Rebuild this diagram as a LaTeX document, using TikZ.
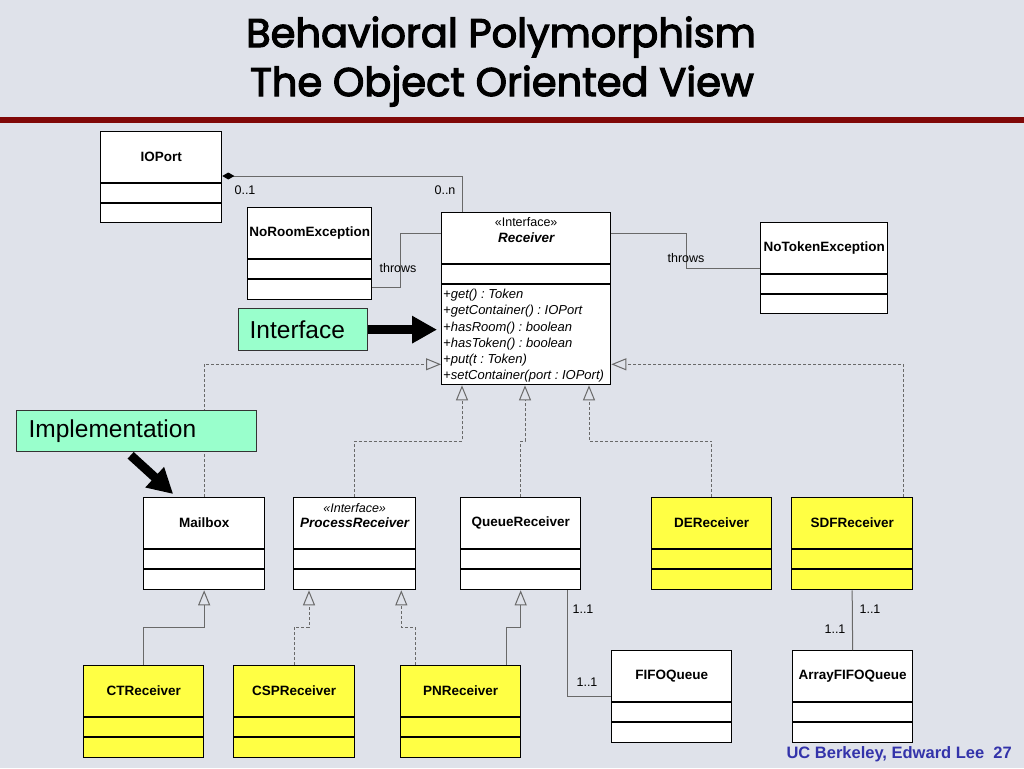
\documentclass[tikz,border=0pt]{standalone}
\usepackage{fontspec}
\setmainfont{Liberation Sans}
\newfontfamily\titlefont{Poppins}[FakeBold=3]
\usetikzlibrary{arrows.meta,positioning}

\definecolor{slidebg}{RGB}{223,226,234}
\definecolor{titlered}{RGB}{128,8,8}
\definecolor{classyellow}{RGB}{255,255,68}
\definecolor{calloutgreen}{RGB}{153,255,204}
\definecolor{linkgray}{RGB}{105,105,105}
\definecolor{footblue}{RGB}{51,51,170}

\tikzset{
  classbox/.style={draw=black, line width=1.3pt, anchor=north west, inner sep=0pt},
  boxline/.style={line width=1.3pt},
  umlname/.style={font=\fontsize{13.5}{15}\selectfont\bfseries},
  stereo/.style={font=\fontsize{12.5}{15}\selectfont},
  mult/.style={font=\fontsize{12.5}{15}\selectfont},
  link/.style={draw=linkgray, line width=1pt},
  realize/.style={link, dash pattern=on 3pt off 2pt, -{Triangle[open, width=12pt, length=15pt]}},
  extend/.style={link, -{Triangle[open, width=12pt, length=15pt]}},
  callout/.style={draw=black!80, line width=1.3pt, fill=calloutgreen, anchor=north west,
    align=left, font=\fontsize{24.5}{28}\selectfont},
  bigarrow/.style={line width=9pt, -{Triangle[width=26pt, length=25pt]}},
}

% class box: name, x, y, width, height, fill, label
\newcommand{\umlclass}[7]{%
  \node[classbox, fill=#6, minimum width=#4pt, minimum height=#5pt] (#1) at (#2,#3) {};
  \draw[boxline] ([yshift=-52pt]#1.north west) -- ([yshift=-52pt]#1.north east);
  \draw[boxline] ([yshift=-72pt]#1.north west) -- ([yshift=-72pt]#1.north east);
  \node[umlname] (#1-name) at ([yshift=-26pt]#1.north) {#7};
}

\frenchspacing
\begin{document}
\begin{tikzpicture}[x=1pt,y=-1pt]
  \fill[slidebg] (0,0) rectangle (1024,768);
  \useasboundingbox (0,0) rectangle (1024,768);

  % title
  \node[font=\titlefont\fontsize{40}{44}\selectfont] (title) at (501,37) {Behavioral Polymorphism};
  \node[font=\titlefont\fontsize{40}{44}\selectfont] (subtitle) at (502,86) {The Object Oriented View};
  \draw[titlered, line width=6pt] (0,120) -- (1024,120);

  % classes
  \umlclass{ioport}{100}{131}{121}{91}{white}{IOPort}
  \umlclass{noroom}{247}{207}{124}{92}{white}{NoRoomException}
  \umlclass{receiver}{441}{212}{169}{172}{white}{\itshape Receiver}
  \umlclass{notoken}{760}{222}{127}{91}{white}{NoTokenException}
  \node[stereo] (receiver-st) at ([yshift=-10pt]receiver.north) {«Interface»};
  \node[anchor=north west, align=left, inner sep=1pt,
    font=\fontsize{13}{16.2}\selectfont\itshape] (receiver-ops) at ([xshift=1pt,yshift=-76pt]receiver.north west)
    {+get() : Token\\+getContainer() : IOPort\\+hasRoom() : boolean\\+hasToken() : boolean\\
     +put(t : Token)\\+setContainer(port : IOPort)};

  \umlclass{mailbox}{143}{497}{121}{92}{white}{Mailbox}
  \umlclass{procrecv}{293}{497}{122}{92}{white}{\itshape ProcessReceiver}
  \node[font=\fontsize{12.5}{15}\selectfont\itshape] (procrecv-st) at ([yshift=-11pt]procrecv.north) {«Interface»};
  \umlclass{queuerecv}{460}{497}{120}{92}{white}{QueueReceiver}
  \umlclass{derecv}{651}{497}{120}{92}{classyellow}{DEReceiver}
  \umlclass{sdfrecv}{791}{497}{121}{92}{classyellow}{SDFReceiver}

  \umlclass{ctrecv}{83}{665}{120}{92}{classyellow}{CTReceiver}
  \umlclass{csprecv}{233}{665}{121}{92}{classyellow}{CSPReceiver}
  \umlclass{pnrecv}{400}{665}{120}{92}{classyellow}{PNReceiver}
  \umlclass{fifo}{611}{650}{120}{92}{white}{FIFOQueue}
  \umlclass{arrayfifo}{792}{650}{120}{92}{white}{ArrayFIFOQueue}

  % composition and throws
  \draw[link, -{Diamond[color=black, width=7pt, length=12pt]}] ([xshift=21pt]receiver.north west) |- ([yshift=-45pt]ioport.north east);
  \node[mult] (m-ioport) at (245,190) {0..1};
  \node[mult] (m-recv) at (445,190) {0..n};
  \draw[link] ([yshift=-21pt]receiver.north west) -- ++(-41,0) |- ([yshift=-80pt]noroom.north east);
  \draw[link] ([yshift=-21pt]receiver.north east) -- ++(75,0) |- (notoken.west);
  \node[stereo] (throws-l) at (398,268) {throws};
  \node[stereo] (throws-r) at (686,258) {throws};

  % realizations of Receiver
  \draw[realize] (mailbox.north) |- ([yshift=21pt]receiver.south west);
  \draw[realize] (procrecv.north) -- ++(0,-56) -| ([xshift=21pt]receiver.south west);
  \draw[realize] (queuerecv.north) -- ++(0,-56) -| ([xshift=84pt]receiver.south west);
  \draw[realize] (derecv.north) -- ++(0,-56) -| ([xshift=148pt]receiver.south west);
  \draw[realize] ([xshift=-10pt]sdfrecv.north east) |- ([yshift=21pt]receiver.south east);

  % subclasses
  \draw[extend] (ctrecv.north) -- ++(0,-38) -| (mailbox.south);
  \draw[realize] (csprecv.north) -- ++(0,-38) -| ([xshift=16pt]procrecv.south west);
  \draw[realize] ([xshift=15pt]pnrecv.north west) -- ++(0,-38) -| ([xshift=-15pt]procrecv.south east);
  \draw[extend] ([xshift=-15pt]pnrecv.north east) -- ++(0,-38) -| (queuerecv.south);

  % associations
  \draw[link] ([xshift=-14pt]queuerecv.south east) |- (fifo.west);
  \node[mult] (m-q1) at (583,609) {1..1};
  \node[mult] (m-q2) at (587,682) {1..1};
  \draw[link] (sdfrecv.south) -- (arrayfifo.north);
  \node[mult] (m-s1) at (870,609) {1..1};
  \node[mult] (m-s2) at (835,629) {1..1};

  % callouts
  \node[callout, text width=107pt, minimum height=42pt, inner xsep=11pt] (interface) at (238,308) {Interface};
  \draw[bigarrow, shorten >=4pt] (interface.east) -- (interface.east -| receiver.west);
  \node[callout, text width=216pt, minimum height=41pt, inner xsep=12pt] (implementation) at (16,410) {Implementation};
  \draw[bigarrow] ([xshift=-6pt,yshift=-3pt]implementation.south) -- ([xshift=-31pt,yshift=3pt]mailbox.north);

  \node[anchor=east, inner sep=0pt, text=footblue, font=\fontsize{16.5}{19}\selectfont\bfseries] (footer) at (1012,754) {UC Berkeley, Edward Lee\ \ 27};
\end{tikzpicture}
\end{document}
